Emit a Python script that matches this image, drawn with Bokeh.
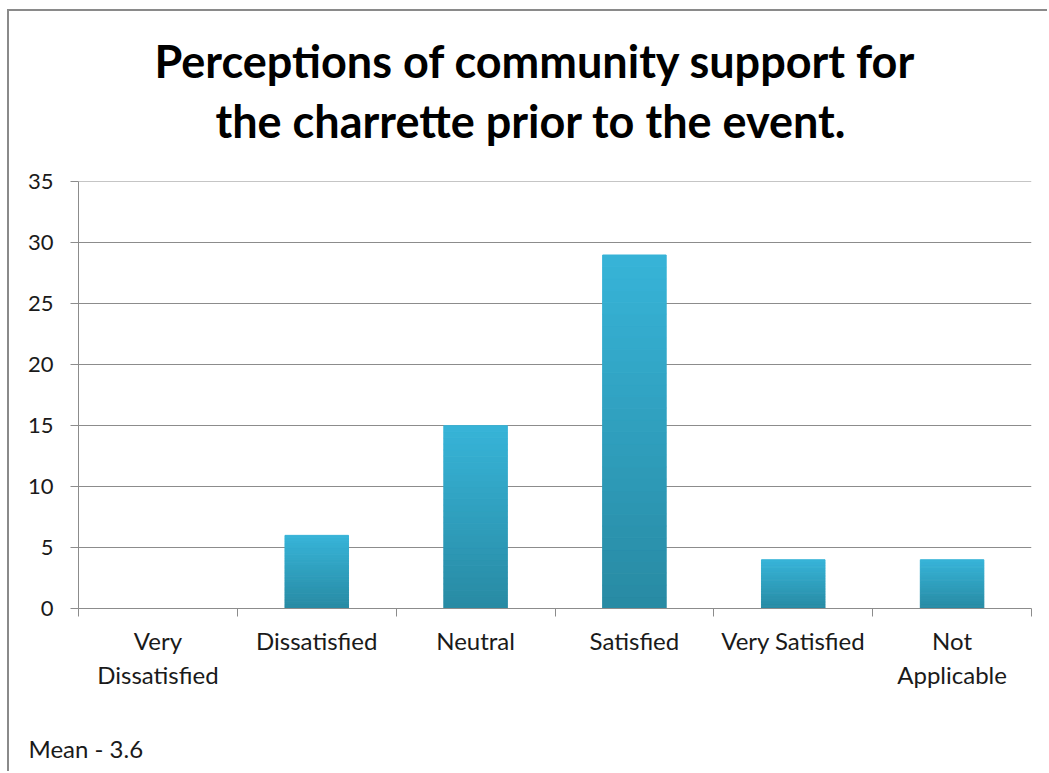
from bokeh.plotting import figure
from bokeh.models import FixedTicker, Range1d, Title
from bokeh.embed import file_html
from bokeh.resources import INLINE

# Survey responses
categories = ["Very Dissatisfied", "Dissatisfied", "Neutral", "Satisfied",
              "Very Satisfied", "Not Applicable"]
axis_labels = ["Very\nDissatisfied", "Dissatisfied", "Neutral", "Satisfied",
               "Very Satisfied", "Not\nApplicable"]
counts = [0, 6, 15, 29, 4, 4]
y_ticks = [0, 5, 10, 15, 20, 25, 30, 35]
title_lines = ["Perceptions of community support for",
               "the charrette prior to the event."]
mean_note = "Mean - 3.6"

W, H = 1049, 773
OFF_X, OFF_Y = 9, 11          # chart box offset inside the page
FRAME_L, FRAME_B = 78, 608    # frame left / baseline in page pixels
FONT = "Lato"
GRID = "#8c8c8c"
TEXT = "#1a1a1a"

p = figure(width=W - OFF_X, height=H - OFF_Y, output_backend="svg",
           toolbar_location=None,
           x_range=Range1d(0, len(categories)), y_range=Range1d(0, 35.03),
           min_border_left=FRAME_L - OFF_X, min_border_right=18,
           min_border_top=181 - OFF_Y, min_border_bottom=H - FRAME_B)
p.outline_line_color = None
p.background_fill_color = "white"
p.border_fill_color = "white"
p.styles = {"border-left": "2px solid #8a8a8a", "border-top": "2px solid #8a8a8a",
            "margin-left": f"{OFF_X - 2}px", "margin-top": f"{OFF_Y - 2}px"}

# bar gradient, light at the top, darker at the base
top_rgb = (0x37, 0xB4, 0xD8)
bot_rgb = (0x28, 0x8A, 0xA3)
n_bands = 30
xs = [i + 0.5 for i in range(len(categories))]
for b in range(n_bands):
    t = (b + 0.5) / n_bands
    col = "#%02x%02x%02x" % tuple(int(round(bot_rgb[k] + (top_rgb[k] - bot_rgb[k]) * t)) for k in range(3))
    bottoms = [c * b / n_bands for c in counts]
    tops = [c * (b + 1) / n_bands for c in counts]
    p.vbar(x=xs, bottom=bottoms, top=tops, width=0.40, fill_color=col,
           line_color=col, line_width=1)

# y axis
p.yaxis.ticker = FixedTicker(ticks=y_ticks)
p.yaxis.axis_line_color = GRID
p.yaxis.major_tick_line_color = GRID
p.yaxis.major_tick_out = 8
p.yaxis.major_tick_in = 0
p.yaxis.minor_tick_line_color = None
p.yaxis.major_label_text_font = FONT
p.yaxis.major_label_text_font_size = "22px"
p.yaxis.major_label_text_color = TEXT
p.yaxis.major_label_standoff = 17

# x axis: labels at category centres, tick marks at the boundaries
p.xaxis.ticker = FixedTicker(ticks=xs, minor_ticks=list(range(len(categories) + 1)))
p.xaxis.major_label_overrides = {x: lab for x, lab in zip(xs, axis_labels)}
p.xaxis.axis_line_color = GRID
p.xaxis.major_tick_line_color = None
p.xaxis.minor_tick_line_color = GRID
p.xaxis.minor_tick_out = 8
p.xaxis.minor_tick_in = 0
p.xaxis.major_label_text_font = FONT
p.xaxis.major_label_text_font_size = "24px"
p.xaxis.major_label_text_color = TEXT
p.xaxis.major_label_standoff = 9
p.xaxis.major_label_text_line_height = 1.18

p.xgrid.grid_line_color = None
p.ygrid.ticker = FixedTicker(ticks=y_ticks)
p.ygrid.grid_line_color = GRID
p.ygrid.grid_line_width = 1

# chart title: two centred lines, the second one is nearest to the frame
title_style = dict(align="left", text_font=FONT, text_font_style="bold",
                   text_font_size="45px", text_color="black")
p.add_layout(Title(text=title_lines[1], offset=137, standoff=64,
                   vertical_align="top", **title_style), "above")
p.add_layout(Title(text=title_lines[0], offset=76, standoff=-52,
                   vertical_align="bottom", **title_style), "above")

# note at the bottom left; the leading empty line pushes it down
p.add_layout(Title(text="\n" + mean_note, align="left", text_font=FONT,
                   text_font_style="normal", text_font_size="24px",
                   text_color=TEXT, text_line_height=1.4,
                   offset=28 - FRAME_L, standoff=0), "below")

open("out.html", "w").write(file_html(p, INLINE))
